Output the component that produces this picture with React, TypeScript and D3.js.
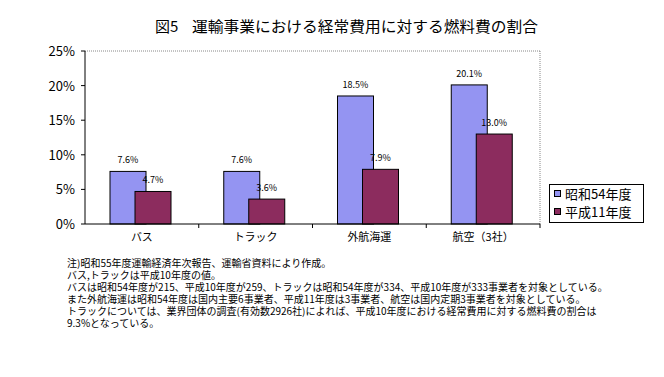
import React from "react";
import * as d3 from "d3";

const categories = ["バス", "トラック", "外航海運", "航空（3社）"];
const seriesNames = ["昭和54年度", "平成11年度"];
const s1979 = [7.6, 7.6, 18.5, 20.1];
const s1999 = [4.7, 3.6, 7.9, 13.0];
const labels1979 = ["7.6%", "7.6%", "18.5%", "20.1%"];
const labels1999 = ["4.7%", "3.6%", "7.9%", "13.0%"];
const yTicks = [0, 5, 10, 15, 20, 25];
const notes = [
  "注)昭和55年度運輸経済年次報告、運輸省資料により作成。",
  "バス,トラックは平成10年度の値。",
  "バスは昭和54年度が215、平成10年度が259、トラックは昭和54年度が334、平成10年度が333事業者を対象としている。",
  "また外航海運は昭和54年度は国内主要6事業者、平成11年度は3事業者、航空は国内定期3事業者を対象としている。",
  "トラックについては、業界団体の調査(有効数2926社)によれば、平成10年度における経常費用に対する燃料費の割合は",
  "9.3%となっている。",
];
const titleFig = "図5";
const title = "運輸事業における経常費用に対する燃料費の割合";

const W = 664, H = 377;
const L = 85, R = 540, T = 51, B = 224;
const font = "'Noto Sans CJK JP', sans-serif";
const colors = ["#9494F2", "#8C2C5E"];

export default function App() {
  const x = d3.scaleBand<string>().domain(categories).range([L, R]).padding(0);
  const y = d3.scaleLinear().domain([0, 25]).range([B, T]);
  const bw = 36;
  const series = [s1979, s1999];
  const lbls = [labels1979, labels1999];
  const offs = [25, 50];
  return (
    <svg width={W} height={H} style={{ position: "absolute", left: 0, top: 0, background: "#fff" }}>
      <rect x={0} y={0} width={W} height={H} fill="#fff" />
      <text x={155} y={32} fontFamily={font} fontSize={15} fill="#000">{titleFig}</text>
      <text x={192} y={32} textLength={346} lengthAdjust="spacingAndGlyphs" fontFamily={font} fontSize={15} fill="#000">{title}</text>
      {/* plot frame */}
      <line x1={L} y1={T} x2={R} y2={T} stroke="#888" strokeDasharray="1,1" />
      <line x1={R} y1={T} x2={R} y2={B} stroke="#888" strokeDasharray="1,1" />
      {yTicks.map((t) => (
        <g key={t}>
          <line x1={L - 4} x2={L} y1={y(t)} y2={y(t)} stroke="#000" />
          <text x={L - 10} y={y(t) + 5} textAnchor="end" fontFamily={font} fontSize={13} fill="#000">{t}%</text>
        </g>
      ))}
      {categories.map((c, i) => (
        <g key={c}>
          {series.map((s, j) => (
            <rect key={j} x={x(c)! + offs[j]} y={y(s[i])} width={bw} height={B - y(s[i])}
              fill={colors[j]} stroke="#000" strokeWidth={1} />
          ))}
          {series.map((s, j) => (
            <text key={"l" + j} x={x(c)! + offs[j] + bw / 2} y={y(s[i]) - 8} textAnchor="middle"
              fontFamily={font} fontSize={9} fill="#000">{lbls[j][i]}</text>
          ))}
          <text x={x(c)! + x.bandwidth() / 2} y={241} textAnchor="middle" fontFamily={font} fontSize={11} fill="#000">{c}</text>
          <line x1={x(c)! + x.bandwidth()} x2={x(c)! + x.bandwidth()} y1={B} y2={B + 4} stroke="#000" />
        </g>
      ))}
      <line x1={L} y1={T} x2={L} y2={B} stroke="#000" />
      <line x1={L} y1={B} x2={R} y2={B} stroke="#000" />
      {/* legend */}
      <rect x={549.5} y={184.5} width={94} height={38} fill="#fff" stroke="#000" />
      {seriesNames.map((n, j) => (
        <g key={n}>
          <rect x={554.5} y={190.5 + j * 18} width={6} height={6} fill={colors[j]} stroke="#000" />
          <text x={565} y={199 + j * 18} fontFamily={font} fontSize={13} fill="#000">{n}</text>
        </g>
      ))}
      {notes.map((n, i) => (
        <text key={i} x={67} y={267 + i * 12} fontFamily={font} fontSize={10} fill="#000">{n}</text>
      ))}
    </svg>
  );
}
